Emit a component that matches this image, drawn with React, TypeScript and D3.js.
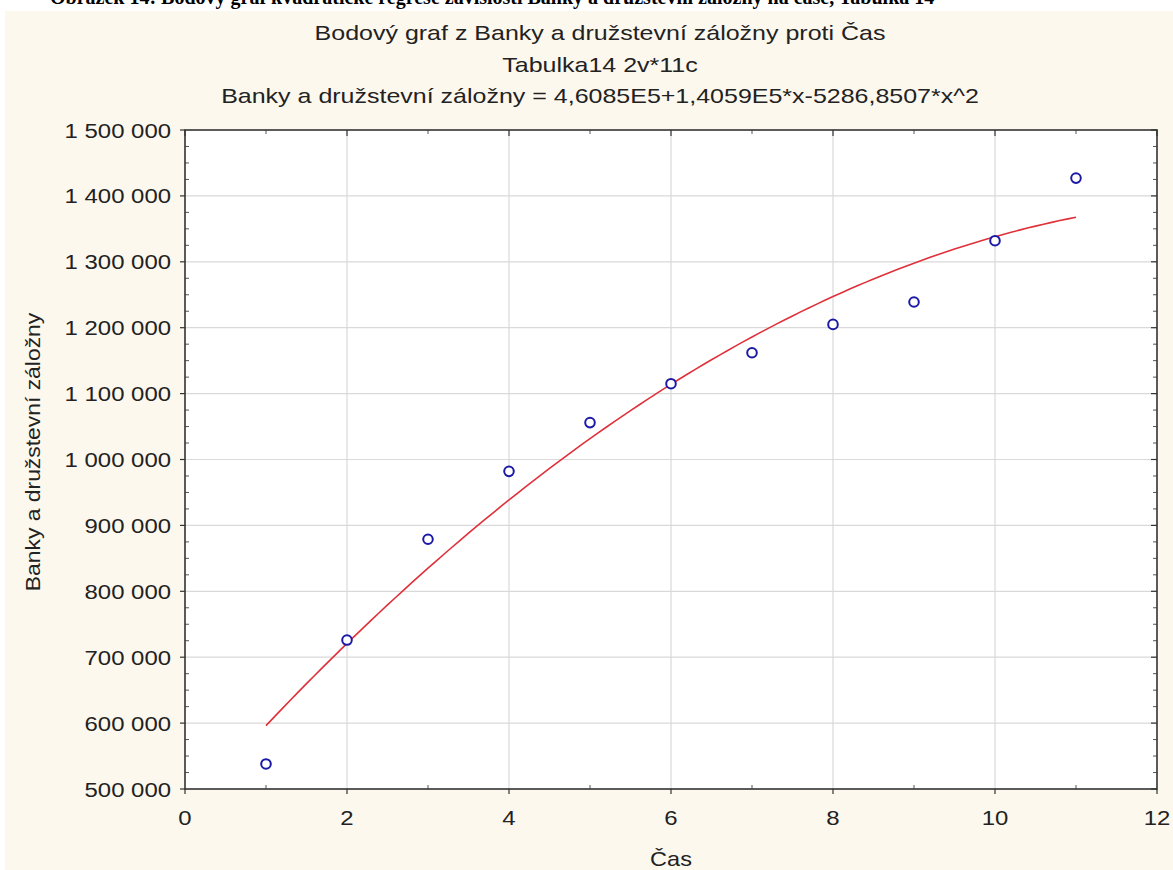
import React, { useEffect } from 'react';
import * as d3 from 'd3';

// data
const casValues = [1, 2, 3, 4, 5, 6, 7, 8, 9, 10, 11];
const bankyValues = [538000, 726000, 879000, 982000, 1056000, 1115000, 1162000, 1205000, 1239000, 1332000, 1427000];
const xTicks = [0, 2, 4, 6, 8, 10, 12];
const yTicks = [500000, 600000, 700000, 800000, 900000, 1000000, 1100000, 1200000, 1300000, 1400000, 1500000];
// fitted curve from the title: a + b*x + c*x^2
const fitCoef = [460850, 140590, -5286.8507];

const titleLines = [
  'Bodový graf z Banky a družstevní záložny proti Čas',
  'Tabulka14 2v*11c',
  'Banky a družstevní záložny = 4,6085E5+1,4059E5*x-5286,8507*x^2',
];

const W = 1173;
const H = 870;
const margin = { left: 185, right: 16, top: 130, bottom: 81 };
const font = '"Liberation Sans", Arial, sans-serif';

// the screenshot's text is a bit stretched sideways, so scale it
const Txt = (props: { x: number; y: number; sx: number; anchor: string; rotate?: number; children: any }) => (
  <g transform={`translate(${props.x},${props.y}) rotate(${props.rotate || 0}) scale(${props.sx},1)`}>
    <text textAnchor={props.anchor} fontFamily={font} fontSize={21} fill="#222">
      {props.children}
    </text>
  </g>
);

export default function App() {
  useEffect(() => {
    document.body.style.margin = '0';
  }, []);

  const x = d3.scaleLinear().domain([0, 12]).range([margin.left, W - margin.right]);
  const y = d3.scaleLinear().domain([500000, 1500000]).range([H - margin.bottom, margin.top]);
  const fmt = (v: number) => d3.format(',')(v).replace(/,/g, ' ');

  const minorY = d3.range(500000, 1500001, 25000).filter((v) => v % 100000 !== 0);
  const minorX = d3.range(1, 12, 2);

  const fitPts = d3.range(1, 11.001, 0.1).map((t) => [t, fitCoef[0] + fitCoef[1] * t + fitCoef[2] * t * t]);
  const line = d3
    .line<number[]>()
    .x((d) => x(d[0]))
    .y((d) => y(d[1]));

  const x0 = x(0), x1 = x(12), y0 = y(500000), y1 = y(1500000);

  return (
    <div style={{ position: 'absolute', left: 0, top: 0 }}>
      <svg width={W} height={H} style={{ display: 'block' }}>
        <rect x={0} y={0} width={W} height={H} fill="#ffffff" />
        {/* caption of the page above, only its lower edge is in the shot */}
        <text x={50} y={4} fontFamily='"Liberation Serif", "Times New Roman", serif' fontWeight="bold" fontSize={20} fill="#000">
          Obrázek 14: Bodový graf kvadratické regrese závislosti Banky a družstevní záložny na čase, Tabulka 14
        </text>
        <rect x={5} y={11} width={W - 5} height={H - 11} fill="#fdf8ee" />

        {titleLines.map((t, i) => (
          <Txt key={i} x={600} y={40 + i * 31.5} sx={1.19} anchor="middle">
            {t}
          </Txt>
        ))}

        <rect x={x0} y={y1} width={x1 - x0} height={y0 - y1} fill="#ffffff" />

        {/* grid */}
        {xTicks.slice(1, -1).map((t) => (
          <line key={'gx' + t} x1={x(t)} x2={x(t)} y1={y1} y2={y0} stroke="#d9d9d9" strokeWidth={1.2} />
        ))}
        {yTicks.slice(1, -1).map((t) => (
          <line key={'gy' + t} x1={x0} x2={x1} y1={y(t)} y2={y(t)} stroke="#d9d9d9" strokeWidth={1.2} />
        ))}

        {/* minor ticks */}
        {minorY.map((t) => (
          <g key={'my' + t} stroke="#555" strokeWidth={1}>
            <line x1={x0} x2={x0 + 4} y1={y(t)} y2={y(t)} />
            <line x1={x1} x2={x1 - 4} y1={y(t)} y2={y(t)} />
          </g>
        ))}
        {minorX.map((t) => (
          <g key={'mx' + t} stroke="#555" strokeWidth={1}>
            <line x1={x(t)} x2={x(t)} y1={y0} y2={y0 - 4} />
            <line x1={x(t)} x2={x(t)} y1={y1} y2={y1 + 4} />
          </g>
        ))}

        {/* major ticks */}
        {yTicks.map((t) => (
          <g key={'ty' + t} stroke="#333" strokeWidth={1.2}>
            <line x1={x0 - 5} x2={x0} y1={y(t)} y2={y(t)} />
            <line x1={x1} x2={x1 - 6} y1={y(t)} y2={y(t)} />
          </g>
        ))}
        {xTicks.map((t) => (
          <g key={'tx' + t} stroke="#333" strokeWidth={1.2}>
            <line x1={x(t)} x2={x(t)} y1={y0} y2={y0 + 5} />
            <line x1={x(t)} x2={x(t)} y1={y1} y2={y1 + 6} />
          </g>
        ))}

        <rect x={x0} y={y1} width={x1 - x0} height={y0 - y1} fill="none" stroke="#333" strokeWidth={1.6} />

        {/* tick labels */}
        {yTicks.map((t) => (
          <Txt key={'ly' + t} x={x0 - 14} y={y(t) + 7.5} sx={1.14} anchor="end">
            {fmt(t)}
          </Txt>
        ))}
        {xTicks.map((t) => (
          <Txt key={'lx' + t} x={x(t)} y={y0 + 36} sx={1.14} anchor="middle">
            {t}
          </Txt>
        ))}

        {/* axis titles */}
        <Txt x={(x0 + x1) / 2} y={866} sx={1.12} anchor="middle">
          Čas
        </Txt>
        <Txt x={40} y={452} sx={1.09} anchor="middle" rotate={-90}>
          Banky a družstevní záložny
        </Txt>

        {/* fitted curve */}
        <path d={line(fitPts) || ''} fill="none" stroke="#e0303a" strokeWidth={1.6} />

        {/* points */}
        {casValues.map((c, i) => (
          <circle key={'p' + i} cx={x(c)} cy={y(bankyValues[i])} r={4.8} fill="#ffffff" stroke="#1a1aa6" strokeWidth={2} />
        ))}
      </svg>
    </div>
  );
}
